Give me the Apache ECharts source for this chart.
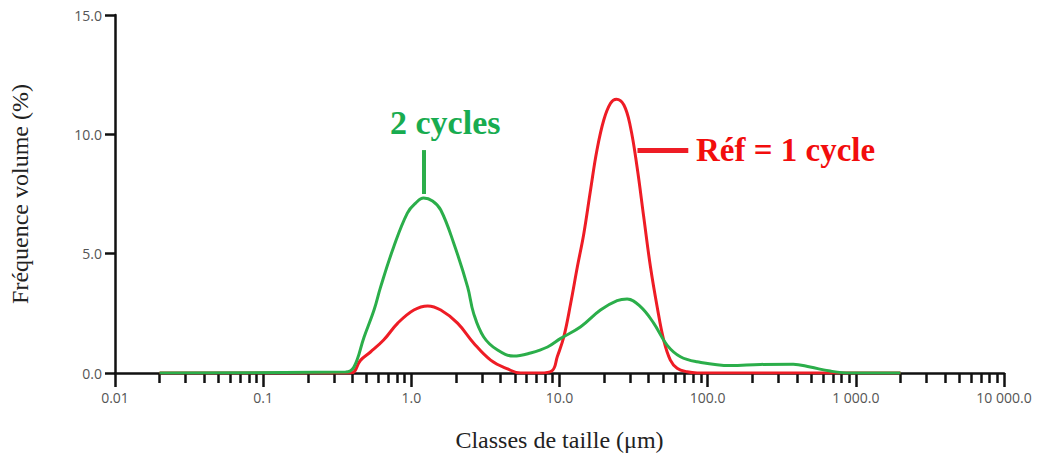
<!DOCTYPE html>
<html>
<head>
<meta charset="utf-8">
<script src="https://cdn.jsdelivr.net/npm/echarts@6/dist/echarts.min.js"></script>
<style>
  html, body { margin: 0; padding: 0; background: #fff; }
  #chart { width: 1039px; height: 459px; }
</style>
</head>
<body>
<div id="chart"></div>
<script>
  // particle size classes (µm) and volume frequency (%)
  var sizesRef = [0.02, 0.39, 0.455, 0.53, 0.65, 0.81, 1.04, 1.29, 1.58, 2.05, 2.63, 3.43, 4.46, 5.46, 7.45, 8.93, 9.66, 10.7, 11.9, 13.2, 14.6, 16.2, 17.9, 19.9, 22.1, 24.2, 27.2, 30.1, 33.4, 37.0, 41.1, 45.6, 50.5, 56.0, 62.2, 72.6, 85, 2000];
  var volRef = [0, 0, 0.54, 0.88, 1.38, 2.09, 2.64, 2.81, 2.64, 2.09, 1.26, 0.54, 0.17, 0, 0, 0.1, 0.68, 1.52, 2.92, 4.45, 5.85, 7.67, 9.34, 10.6, 11.3, 11.47, 11.23, 10.32, 8.62, 6.55, 4.45, 2.78, 1.38, 0.54, 0.2, 0.05, 0, 0];

  var sizes2 = [0.02, 0.36, 0.41, 0.48, 0.56, 0.62, 0.76, 0.94, 1.07, 1.21, 1.39, 1.58, 1.93, 2.40, 2.63, 3.08, 3.82, 4.90, 6.38, 8.30, 10.2, 13.9, 18.9, 24.5, 28.6, 35.2, 43.2, 53.2, 65.5, 84.8, 142, 227, 378, 492, 671, 916, 2000];
  var vol2 = [0, 0.04, 0.25, 1.51, 2.64, 3.60, 5.28, 6.70, 7.12, 7.33, 7.21, 6.83, 5.45, 3.60, 2.51, 1.51, 0.96, 0.71, 0.84, 1.09, 1.45, 1.94, 2.64, 3.03, 3.10, 2.78, 2.09, 1.17, 0.68, 0.47, 0.31, 0.36, 0.37, 0.25, 0.08, 0, 0];

  var decadeTicks = [0.01, 0.1, 1, 10, 100, 1000, 10000];
  var decadeLabels = ['0.01', '0.1', '1.0', '10.0', '100.0', '1 000.0', '10 000.0'];
  var minorTicks = [];
  decadeTicks.slice(0, 6).forEach(function (d) {
    for (var k = 2; k <= 9; k++) minorTicks.push(+(d * k).toPrecision(6));
  });

  var GREEN = '#2bae4a';
  var RED = '#ee1c25';

  function pairs(xs, ys) {
    return xs.map(function (x, i) { return [x, ys[i]]; });
  }

  var chart = echarts.init(document.getElementById('chart'), null, { renderer: 'svg' });

  chart.setOption({
    animation: false,
    grid: { left: 114, right: 35, top: 15, bottom: 86 },
    xAxis: [{
      type: 'log',
      logBase: 10,
      min: 0.01,
      max: 10000,
      name: 'Classes de taille (μm)',
      nameLocation: 'middle',
      nameGap: 55,
      nameTextStyle: { fontFamily: 'Liberation Serif', fontSize: 24, color: '#222' },
      axisLine: { lineStyle: { color: '#111', width: 2.5 } },
      axisTick: { customValues: decadeTicks, length: 14, lineStyle: { color: '#111', width: 2.5 } },
      axisLabel: {
        customValues: decadeTicks,
        margin: 17,
        fontFamily: 'Open Sans',
        fontSize: 14,
        color: '#555',
        formatter: function (v) {
          var i = decadeTicks.findIndex(function (d) { return Math.abs(Math.log10(d) - Math.log10(v)) < 0.01; });
          return i >= 0 ? decadeLabels[i] : '';
        }
      },
      splitLine: { show: false }
    }, {
      type: 'log',
      logBase: 10,
      min: 0.01,
      max: 10000,
      position: 'bottom',
      axisLine: { show: false },
      axisTick: { customValues: minorTicks, length: 10, lineStyle: { color: '#111', width: 2.5 } },
      axisLabel: { show: false },
      splitLine: { show: false }
    }],
    yAxis: {
      type: 'value',
      min: 0,
      max: 15,
      interval: 5,
      name: 'Fréquence volume (%)',
      nameLocation: 'middle',
      nameGap: 83,
      nameTextStyle: { fontFamily: 'Liberation Serif', fontSize: 24, color: '#222' },
      axisLine: { show: true, lineStyle: { color: '#111', width: 2.5 } },
      axisTick: { show: true, length: 10, lineStyle: { color: '#111', width: 2.5 } },
      axisLabel: {
        margin: 13,
        fontFamily: 'Open Sans',
        fontSize: 14,
        color: '#555',
        formatter: function (v) { return v.toFixed(1); }
      },
      splitLine: { show: false }
    },
    series: [{
      name: 'Réf = 1 cycle',
      type: 'line',
      data: pairs(sizesRef, volRef),
      showSymbol: false,
      smooth: 0.4,
      lineStyle: { color: RED, width: 3 },
      markLine: {
        silent: true,
        symbol: 'none',
        label: { show: false },
        lineStyle: { color: RED, width: 5, type: 'solid' },
        data: [[{ coord: [33.6, 9.34] }, { coord: [74, 9.34] }]]
      }
    }, {
      name: '2 cycles',
      type: 'line',
      data: pairs(sizes2, vol2),
      showSymbol: false,
      smooth: 0.4,
      lineStyle: { color: GREEN, width: 3 },
      markLine: {
        silent: true,
        symbol: 'none',
        label: { show: false },
        lineStyle: { color: GREEN, width: 4, type: 'solid' },
        data: [[{ coord: [1.21, 7.5] }, { coord: [1.21, 9.34] }]]
      }
    }],
    graphic: [{
      type: 'text',
      left: 390,
      top: 105,
      style: { text: '2 cycles', fontFamily: 'Liberation Serif', fontWeight: 'bold', fontSize: 34, fill: '#18ac50' }
    }, {
      type: 'text',
      left: 696,
      top: 133,
      style: { text: 'Réf = 1 cycle', fontFamily: 'Liberation Serif', fontWeight: 'bold', fontSize: 33, fill: '#f20d0d' }
    }]
  });
</script>
</body>
</html>
